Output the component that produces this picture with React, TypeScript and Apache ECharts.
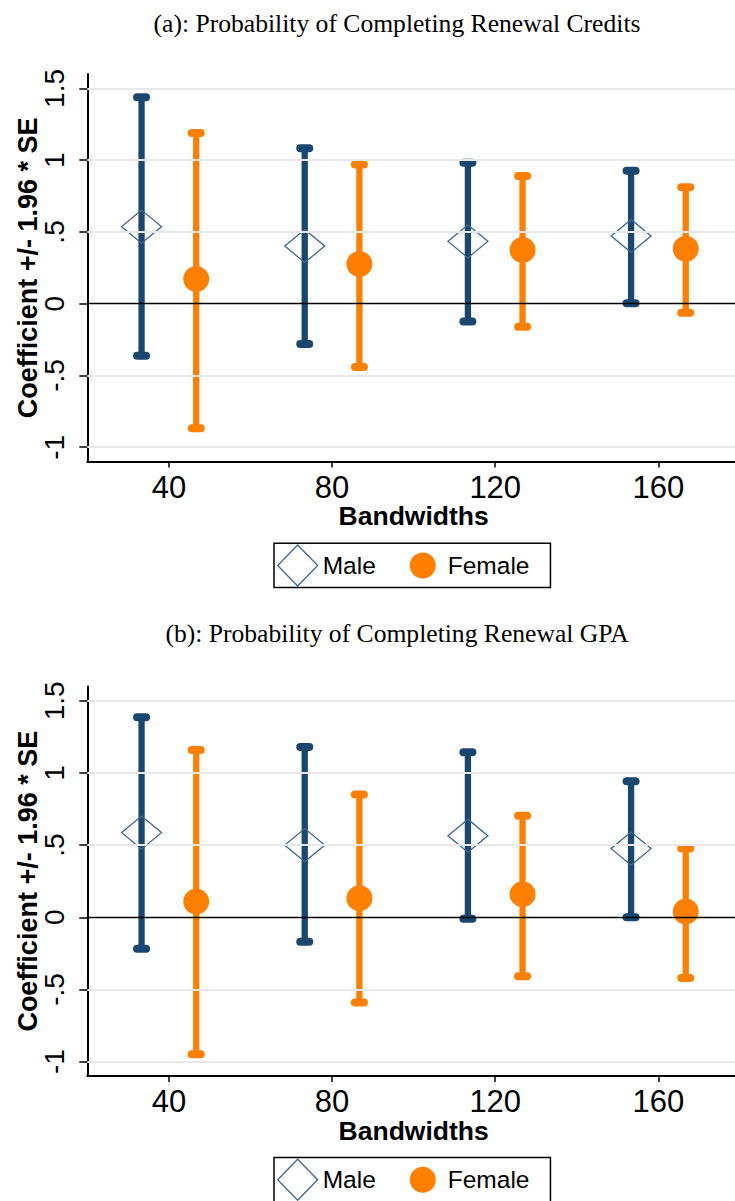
import React, { useEffect, useRef } from "react";
import * as echarts from "echarts";

// ---------- data ----------
const bandwidths = [40, 80, 120, 160];
const maleX = [33.3, 73.3, 113.3, 153.3];
const femaleX = [46.7, 86.7, 126.7, 166.7];
const yTicks = [-1, -0.5, 0, 0.5, 1, 1.5];
const gridValues = [-1, -0.5, 0.5, 1, 1.5];

// Panel (a): renewal credits
const creditsMaleCoef = [0.537, 0.402, 0.435, 0.472];
const creditsMaleLo = [-0.362, -0.281, -0.123, 0.003];
const creditsMaleHi = [1.438, 1.083, 0.983, 0.927];
const creditsFemaleCoef = [0.172, 0.277, 0.374, 0.383];
const creditsFemaleLo = [-0.868, -0.44, -0.16, -0.063];
const creditsFemaleHi = [1.19, 0.97, 0.89, 0.811];

// Panel (b): renewal GPA
const gpaMaleCoef = [0.587, 0.5, 0.565, 0.476];
const gpaMaleLo = [-0.218, -0.17, -0.01, 0.0];
const gpaMaleHi = [1.386, 1.18, 1.143, 0.942];
const gpaFemaleCoef = [0.11, 0.132, 0.16, 0.04];
const gpaFemaleLo = [-0.95, -0.59, -0.408, -0.42];
const gpaFemaleHi = [1.16, 0.85, 0.703, 0.476];

const titles = [
  "(a): Probability of Completing Renewal Credits",
  "(b): Probability of Completing Renewal GPA",
];

// ---------- styles ----------
const NAVY = "#1a476f";
const DIAMOND = "#3f6790";
const ORANGE = "#ff8000";
const SANS = '"Liberation Sans", Arial, sans-serif';
const SERIF = '"Liberation Serif", "Times New Roman", serif';

const FEMALE_ICON =
  "path://M0,0h0.01v0.01h-0.01z M39.99,40.99h0.01v0.01h-0.01z M7,20.5a13,13 0 1,0 26,0a13,13 0 1,0 -26,0z";

function fmtY(v: number) {
  const s = String(Math.round(v * 10) / 10);
  return s.replace(/^(-?)0\./, "$1.");
}

function errorBarRender(color: string) {
  return (params: any, api: any) => {
    const x = api.value(0);
    const lo = api.coord([x, api.value(1)]);
    const hi = api.coord([x, api.value(2)]);
    const capHalf = 4.5;
    return {
      type: "group",
      children: [
        {
          type: "line",
          shape: { x1: lo[0], y1: lo[1], x2: hi[0], y2: hi[1] },
          style: { stroke: color, lineWidth: 6.3, lineCap: "butt" },
        },
        {
          type: "line",
          shape: { x1: lo[0] - capHalf, y1: lo[1], x2: lo[0] + capHalf, y2: lo[1] },
          style: { stroke: color, lineWidth: 8, lineCap: "round" },
        },
        {
          type: "line",
          shape: { x1: hi[0] - capHalf, y1: hi[1], x2: hi[0] + capHalf, y2: hi[1] },
          style: { stroke: color, lineWidth: 8, lineCap: "round" },
        },
      ],
    };
  };
}

export default function App() {
  const ref = useRef<HTMLDivElement>(null);

  useEffect(() => {
    if (!ref.current) return;
    const chart = echarts.init(ref.current, undefined, { renderer: "svg" });

    const panels = [
      {
        top: 74.1,
        height: 387.5,
        legendTop: 543.3,
        titleTop: 5,
        mc: creditsMaleCoef, ml: creditsMaleLo, mh: creditsMaleHi,
        fc: creditsFemaleCoef, fl: creditsFemaleLo, fh: creditsFemaleHi,
      },
      {
        top: 686.4,
        height: 389.6,
        legendTop: 1157.6,
        titleTop: 615,
        mc: gpaMaleCoef, ml: gpaMaleLo, mh: gpaMaleHi,
        fc: gpaFemaleCoef, fl: gpaFemaleLo, fh: gpaFemaleHi,
      },
    ];

    const grid: any[] = [];
    const xAxis: any[] = [];
    const yAxis: any[] = [];
    const series: any[] = [];
    const legend: any[] = [];
    const title: any[] = [];

    panels.forEach((p, i) => {
      grid.push({
        left: 87.3,
        top: p.top,
        width: 652.7,
        height: p.height,
        containLabel: false,
        outerBoundsMode: "none",
      });
      title.push({
        text: titles[i],
        left: 392,
        top: p.titleTop,
        textAlign: "center",
        textStyle: { fontFamily: SERIF, fontSize: 25.6, fontWeight: "normal", color: "#000" },
      });
      xAxis.push({
        type: "value",
        gridIndex: i,
        min: 20,
        max: 180,
        axisLine: { show: true, onZero: false, lineStyle: { color: "#000", width: 2 } },
        axisTick: { show: true, customValues: bandwidths, length: 6, lineStyle: { color: "#000", width: 1.5 } },
        axisLabel: { customValues: bandwidths, fontSize: 31, fontFamily: SANS, color: "#000", margin: 10 },
        splitLine: { show: false },
        name: "Bandwidths",
        nameLocation: "middle",
        nameGap: 41,
        nameMoveOverlap: false,
        nameTextStyle: { fontSize: 26.5, fontWeight: "bold", fontFamily: SANS, color: "#000" },
      });
      yAxis.push({
        type: "value",
        gridIndex: i,
        min: -1.1,
        max: 1.6,
        axisLine: { show: true, onZero: false, lineStyle: { color: "#000", width: 2 } },
        axisTick: { show: true, customValues: yTicks, length: 8, lineStyle: { color: "#000", width: 1.5 } },
        axisLabel: {
          customValues: yTicks,
          rotate: 90,
          fontSize: 28,
          fontFamily: SANS,
          color: "#000",
          margin: 19,
          formatter: (v: number) => fmtY(v),
        },
        splitLine: { show: false },
        name: "Coefficient +/- 1.96 * SE",
        nameLocation: "middle",
        nameGap: 46,
        nameMoveOverlap: false,
        nameTextStyle: { fontSize: 27, fontWeight: "bold", fontFamily: SANS, color: "#000" },
      });

      // gridlines and zero line
      series.push({
        type: "line",
        name: "grid" + i,
        xAxisIndex: i,
        yAxisIndex: i,
        data: [],
        z: 1,
        silent: true,
        markLine: {
          silent: true,
          symbol: ["none", "none"],
          label: { show: false },
          animation: false,
          data: [
            ...gridValues.map((v) => ({ yAxis: v, lineStyle: { color: "#e8e8e8", width: 2, type: "solid" } })),
            { yAxis: 0, lineStyle: { color: "#000", width: 1.4, type: "solid" } },
          ],
        },
      });

      series.push({
        type: "custom",
        name: "Male",
        xAxisIndex: i,
        yAxisIndex: i,
        z: 2,
        renderItem: errorBarRender(NAVY),
        encode: { x: 0, y: [1, 2] },
        data: maleX.map((x, k) => [x, p.ml[k], p.mh[k]]),
      });
      series.push({
        type: "custom",
        name: "Female",
        xAxisIndex: i,
        yAxisIndex: i,
        z: 2,
        renderItem: errorBarRender(ORANGE),
        encode: { x: 0, y: [1, 2] },
        data: femaleX.map((x, k) => [x, p.fl[k], p.fh[k]]),
      });
      series.push({
        type: "scatter",
        name: "Male",
        xAxisIndex: i,
        yAxisIndex: i,
        z: 3,
        symbol: "diamond",
        symbolSize: [40, 33],
        itemStyle: { color: "rgba(0,0,0,0)", borderColor: DIAMOND, borderWidth: 1.3, opacity: 1 },
        data: maleX.map((x, k) => [x, p.mc[k]]),
      });
      series.push({
        type: "scatter",
        name: "Female",
        xAxisIndex: i,
        yAxisIndex: i,
        z: 4,
        symbol: "circle",
        symbolSize: 26,
        itemStyle: { color: ORANGE, opacity: 1 },
        data: femaleX.map((x, k) => [x, p.fc[k]]),
      });

      legend.push({
        left: 274,
        top: p.legendTop,
        orient: "horizontal",
        itemWidth: 40,
        itemHeight: 41,
        itemGap: 27,
        padding: [1, 21, 1, 3],
        borderColor: "#000",
        borderWidth: 1.5,
        selectedMode: false,
        textStyle: { fontSize: 24.5, fontFamily: SANS, color: "#000" },
        data: [
          {
            name: "Male",
            icon: "diamond",
            itemStyle: { color: "rgba(0,0,0,0)", borderColor: DIAMOND, borderWidth: 1.3 },
          },
          {
            name: "Female",
            icon: FEMALE_ICON,
            itemStyle: { color: ORANGE, borderWidth: 0, opacity: 1 },
          },
        ],
      });
    });

    chart.setOption({
      animation: false,
      backgroundColor: "#fff",
      title,
      grid,
      xAxis,
      yAxis,
      legend,
      series,
    });

    return () => chart.dispose();
  }, []);

  return (
    <div
      ref={ref}
      style={{ position: "absolute", left: 0, top: 0, width: 735, height: 1201 }}
    />
  );
}
